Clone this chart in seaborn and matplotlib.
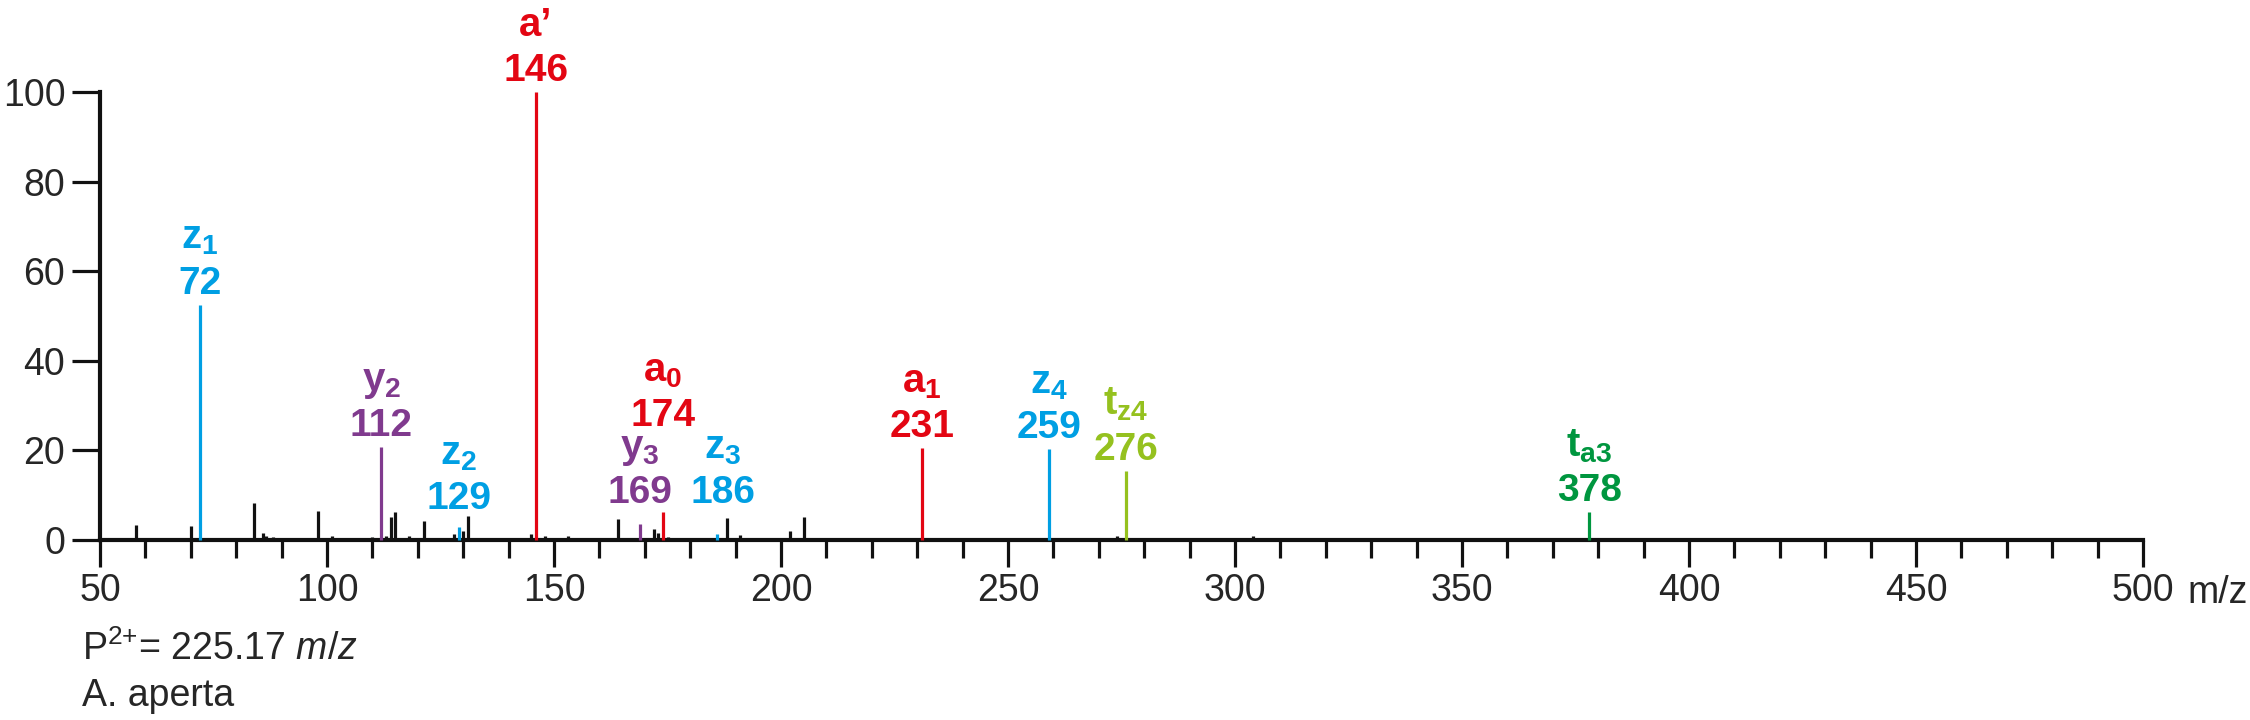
import matplotlib
matplotlib.use("Agg")
import matplotlib.pyplot as plt
import numpy as np
import pandas as pd
import seaborn as sns

# unassigned (black) peaks: m/z and relative intensity
other_mz = [58, 70, 84, 85.8, 86.5, 88, 98, 101, 103, 110, 113, 114, 115, 118,
            121.4, 128, 130, 131, 141, 145, 148, 153, 162, 164, 172, 173, 175,
            188, 191, 202, 205, 217, 219, 274, 304, 361]
other_int = [3.3, 3.1, 8.3, 1.5, 0.8, 0.6, 6.5, 0.9, 0.5, 0.6, 0.9, 5.2, 6.3, 1.0,
             4.3, 1.3, 2.0, 5.4, 0.5, 1.3, 0.9, 0.9, 0.3, 4.7, 2.5, 1.5, 0.6,
             5.0, 1.1, 2.0, 5.1, 0.5, 0.5, 0.8, 0.8, 0.5]

# assigned fragment ions
ion_names = [r"$\mathbf{z_1}$", "a’", r"$\mathbf{y_2}$", r"$\mathbf{z_2}$",
             r"$\mathbf{y_3}$", r"$\mathbf{a_0}$", r"$\mathbf{z_3}$",
             r"$\mathbf{a_1}$", r"$\mathbf{z_4}$", r"$\mathbf{t_{z4}}$",
             r"$\mathbf{t_{a3}}$"]
ion_mz = [72, 146, 112, 129, 169, 174, 186, 231, 259, 276, 378]
ion_int = [52.5, 100, 20.7, 2.8, 3.6, 6.2, 1.3, 20.5, 20.3, 15.5, 6.2]
ion_series = ["z", "a", "y", "z", "y", "a", "z", "a", "z", "tz", "ta"]

x_ticks = [50, 100, 150, 200, 250, 300, 350, 400, 450, 500]
y_ticks = [0, 20, 40, 60, 80, 100]

series_colors = {"z": "#009fe3", "a": "#e30613", "y": "#803a8e",
                 "tz": "#95c11f", "ta": "#00963f"}
# extra lift (pixels) of crowded labels above their peak
label_lift = {129: 18, 169: 21, 174: 86, 186: 31}
label_shift = {186: 5}

sns.set_theme(style="ticks")
plt.rcParams["font.family"] = ["Liberation Sans", "DejaVu Sans"]
plt.rcParams["mathtext.fontset"] = "custom"
plt.rcParams["mathtext.rm"] = "Liberation Sans"
plt.rcParams["mathtext.it"] = "Liberation Sans:italic"
plt.rcParams["mathtext.bf"] = "Liberation Sans:bold"

others = pd.DataFrame({"mz": other_mz, "intensity": other_int})
ions = pd.DataFrame({"name": ion_names, "mz": ion_mz, "intensity": ion_int,
                     "series": ion_series})

fig = plt.figure(figsize=(22.5, 7.2), dpi=100)
ax = fig.add_axes([100 / 2250, 1 - 540 / 720, (2143 - 100) / 2250, (540 - 92) / 720])

ax.vlines(others["mz"], 0, others["intensity"], color="#111111", lw=2.3, clip_on=False)
for _, r in ions.iterrows():
    c = series_colors[r["series"]]
    ax.vlines(r["mz"], 0, r["intensity"], color=c, lw=2.3, clip_on=False, zorder=3)
    lift = label_lift.get(r["mz"], 11)
    dx = label_shift.get(r["mz"], 0)
    ax.annotate(str(r["mz"]), (r["mz"], r["intensity"]), xytext=(dx, lift),
                textcoords="offset pixels", ha="center", va="baseline",
                color=c, fontsize=28, fontweight="bold")
    ax.annotate(r["name"], (r["mz"], r["intensity"]), xytext=(dx, lift + 45),
                textcoords="offset pixels", ha="center", va="baseline",
                color=c, fontsize=29, fontweight="bold")

ax.set_xlim(50, 500)
ax.set_ylim(0, 100)
ax.set_xticks(x_ticks)
ax.set_xticks(np.arange(60, 500, 10), minor=True)
ax.set_yticks(y_ticks)
ax.tick_params(axis="x", which="major", length=19.5, width=2.3, pad=4,
               labelsize=27, color="#111111")
ax.tick_params(axis="x", which="minor", length=13, width=2.3, color="#111111")
ax.tick_params(axis="y", length=20, width=2.3, pad=5, labelsize=27, color="#111111")
for s in ["left", "bottom"]:
    ax.spines[s].set_linewidth(3)
    ax.spines[s].set_color("#111111")
sns.despine(ax=ax)
ax.set_xlabel("")
ax.set_ylabel("")

ax.annotate("m/z", (500, 0), xytext=(44, -35), textcoords="offset pixels",
            ha="left", va="top", fontsize=27)

fig.text(82 / 2250, 1 - 660 / 720, r"P$^{\text{2+}}$= 225.17 $\it{m/z}$", fontsize=27,
         va="baseline", ha="left")
fig.text(82 / 2250, 1 - 706 / 720, "A. aperta", fontsize=27,
         va="baseline", ha="left")

fig.savefig("out.png", dpi=100)
